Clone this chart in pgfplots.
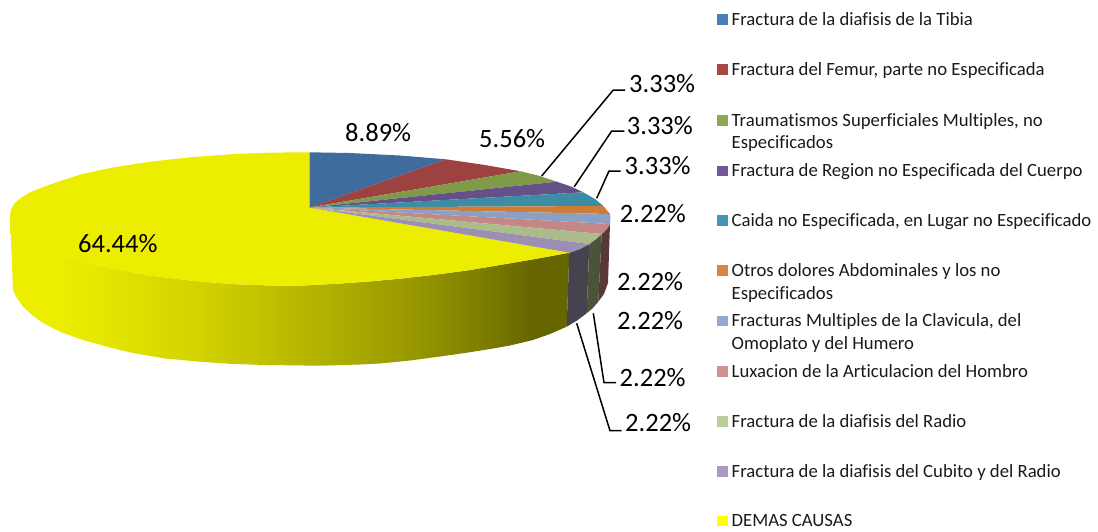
\documentclass[border=0pt]{standalone}
\usepackage{fontspec}
\setmainfont{Carlito}
\usepackage{pgfplots}
\pgfplotsset{compat=1.18}
\definecolor{cBlue}{HTML}{3F6C9C}
\definecolor{cRed}{HTML}{9C4240}
\definecolor{cGreen}{HTML}{7F9A48}
\definecolor{cPurple}{HTML}{66508A}
\definecolor{cTeal}{HTML}{3C8CA4}
\definecolor{cOrange}{HTML}{CE7C36}
\definecolor{cPeri}{HTML}{8BA0C5}
\definecolor{cPink}{HTML}{C38786}
\definecolor{cLGreen}{HTML}{ABBC8A}
\definecolor{cLilac}{HTML}{9B8FB3}
\definecolor{cYellow}{HTML}{EDED00}
\definecolor{sLilac}{HTML}{46424E}
\definecolor{sLGreen}{HTML}{4B5438}
\definecolor{sPink}{HTML}{5A3838}
\definecolor{y1}{HTML}{EDED00}
\definecolor{y2}{HTML}{E6E600}
\definecolor{y3}{HTML}{D2D200}
\definecolor{y4}{HTML}{B2B200}
\definecolor{y5}{HTML}{9C9C00}
\definecolor{y6}{HTML}{8A8A00}
\definecolor{y7}{HTML}{757500}
\definecolor{y8}{HTML}{666600}
\definecolor{lgBlue}{HTML}{4A7EBA}
\definecolor{lgRed}{HTML}{AA4644}
\definecolor{lgGreen}{HTML}{8DA952}
\definecolor{lgPurple}{HTML}{72589A}
\definecolor{lgTeal}{HTML}{4298B2}
\definecolor{lgOrange}{HTML}{DA843E}
\definecolor{lgPeri}{HTML}{93A9CF}
\definecolor{lgPink}{HTML}{D09392}
\definecolor{lgLGreen}{HTML}{B9CD96}
\definecolor{lgLilac}{HTML}{A99BBD}
\definecolor{lgYellow}{HTML}{FFFF00}
\definecolor{txt}{HTML}{1A1A1A}
\pgfdeclarehorizontalshading{yelside}{100bp}{color(0bp)=(y1); color(29.5bp)=(y1); color(33bp)=(y2); color(42bp)=(y3); color(52.7bp)=(y4); color(59.9bp)=(y5); color(64.3bp)=(y6); color(68.8bp)=(y7); color(71.5bp)=(y8); color(100bp)=(y8)}
\newcommand{\lab}[3]{\node[anchor=base west,inner sep=0pt,font=\fontsize{26.5}{30}\selectfont,text=black] at (axis cs:#1,#2) {#3};}
\newcommand{\leg}[3]{\node[anchor=base west,inner sep=0pt,font=\fontsize{18.7}{22}\addfontfeatures{Ligatures=NoCommon}\selectfont,text=txt] at (axis cs:#1,#2) {#3};}
\begin{document}
\begin{tikzpicture}
\begin{axis}[
  scale only axis, width=1098pt, height=531pt,
  xmin=0, xmax=1098, ymin=0, ymax=531, y dir=reverse,
  hide axis, clip=false]
% full extent of the picture
\addplot[draw=none] coordinates {(0,0)(1098,0)(1098,531)(0,531)};
% side of the pie
\addplot[shading=yelside, draw=none] coordinates {(10,215)(10.5,220)(12,224)(16,229)(20,233.3)(33,244)(50,250.7)(67,257)(80,260.9)(110,268.3)(150,275.5)(190,280.5)(230,284)(270,285.5)(300,285.7)(333,284)(366.7,281.7)(400,278.7)(433,275)(467,270.5)(500,265)(535,259)(569.3,252.7)(566.7,326.7)(550,334)(533,340)(510,345.5)(490,349)(465,353)(440,356.5)(410,360.5)(380,363.5)(360,364.5)(320,365.7)(267,365)(233,364)(200,361.7)(165,358.5)(133,353)(108,347)(83,340)(62,332.5)(43,323)(32,315)(23,306.7)(17,298)(13,290)};
\addplot[fill=sLilac, draw=none] coordinates {(569.3,252.7)(580,249)(589.3,244)(586.7,313.3)(577,320.5)(566.7,326.7)};
\addplot[fill=sLGreen, draw=none] coordinates {(589.3,244)(596,239)(601.7,234)(598.3,301.7)(593,308)(586.7,313.3)};
\addplot[fill=sPink, draw=none] coordinates {(601.7,234)(607,229)(610,224)(608,283)(604,294)(598.3,301.7)};
% top of the pie
\addplot[fill=cYellow, draw=none] coordinates {(309.5,207.5)(309.5,152.3)(270,152.6)(230,154.3)(190,157.3)(150,161.7)(110,168)(80,174.6)(50,184.5)(30,192.3)(20,198.5)(14,204)(11,209.5)(10,215)(10.5,220)(12,224)(16,229)(20,233.3)(33,244)(50,250.7)(67,257)(80,260.9)(110,268.3)(150,275.5)(190,280.5)(230,284)(270,285.5)(300,285.7)(333,284)(366.7,281.7)(400,278.7)(433,275)(467,270.5)(500,265)(535,259)(569.3,252.7)};
\addplot[fill=cBlue, draw=none] coordinates {(309.5,207.5)(309.5,152.3)(350,153)(400,155.5)(446,159.3)};
\addplot[fill=cRed, draw=none] coordinates {(309.5,207.5)(446,159.3)(485,165)(520.7,171.3)};
\addplot[fill=cGreen, draw=none] coordinates {(309.5,207.5)(520.7,171.3)(540,176)(556.7,181.7)};
\addplot[fill=cPurple, draw=none] coordinates {(309.5,207.5)(556.7,181.7)(571,186.5)(583.3,192.3)};
\addplot[fill=cTeal, draw=none] coordinates {(309.5,207.5)(583.3,192.3)(595,199)(603.3,206)};
\addplot[fill=cOrange, draw=none] coordinates {(309.5,207.5)(603.3,206)(610,214)};
\addplot[fill=cPeri, draw=none] coordinates {(309.5,207.5)(610,214)(610.5,219)(610,224)};
\addplot[fill=cPink, draw=none] coordinates {(309.5,207.5)(610,224)(607,229)(601.7,234)};
\addplot[fill=cLGreen, draw=none] coordinates {(309.5,207.5)(601.7,234)(596,239)(589.3,244)};
\addplot[fill=cLilac, draw=none] coordinates {(309.5,207.5)(589.3,244)(580,249)(569.3,252.7)};
% leader lines
\addplot[black, line width=1.5pt] coordinates {(541.7,176)(613.3,90)(625,90)};
\addplot[black, line width=1.5pt] coordinates {(574.3,186.7)(611.7,131)(624.3,131)};
\addplot[black, line width=1.5pt] coordinates {(596.7,198.3)(609,171)(620.7,171)};
\addplot[black, line width=1.5pt] coordinates {(593.3,313.3)(604,382.7)(616,382.7)};
\addplot[black, line width=1.5pt] coordinates {(576.7,323.3)(610,430.7)(621.7,430.7)};
% legend swatches
\addplot[fill=lgBlue, draw=none] coordinates {(717,14.3)(728,14.3)(728,25)(717,25)};
\addplot[fill=lgRed, draw=none] coordinates {(717,64.3)(728,64.3)(728,75)(717,75)};
\addplot[fill=lgGreen, draw=none] coordinates {(717,115)(728,115)(728,126)(717,126)};
\addplot[fill=lgPurple, draw=none] coordinates {(717,165.5)(728,165.5)(728,176)(717,176)};
\addplot[fill=lgTeal, draw=none] coordinates {(717,215)(728,215)(728,225.7)(717,225.7)};
\addplot[fill=lgOrange, draw=none] coordinates {(717,265)(728,265)(728,276)(717,276)};
\addplot[fill=lgPeri, draw=none] coordinates {(717,315.5)(728,315.5)(728,326)(717,326)};
\addplot[fill=lgPink, draw=none] coordinates {(717,366)(728,366)(728,377)(717,377)};
\addplot[fill=lgLGreen, draw=none] coordinates {(717,416)(728,416)(728,427)(717,427)};
\addplot[fill=lgLilac, draw=none] coordinates {(717,466)(728,466)(728,477)(717,477)};
\addplot[fill=lgYellow, draw=none] coordinates {(717,515.5)(728,515.5)(728,526)(717,526)};
% data labels
\lab{345}{141}{8.89\%}
\lab{479}{147.5}{5.56\%}
\lab{629}{92.5}{3.33\%}
\lab{626.7}{134}{3.33\%}
\lab{624.5}{174}{3.33\%}
\lab{619.7}{222}{2.22\%}
\lab{617}{290}{2.22\%}
\lab{617}{329}{2.22\%}
\lab{619.5}{386}{2.22\%}
\lab{625}{431.5}{2.22\%}
\lab{78}{252.5}{64.44\%}
% legend text
\leg{731.5}{25}{Fractura de la diafisis de la Tibia}
\leg{731.5}{75}{Fractura del Femur, parte no Especificada}
\leg{731.5}{126}{Traumatismos Superficiales Multiples, no}
\leg{731.5}{148}{Especificados}
\leg{731.5}{176}{Fractura de Region no Especificada del Cuerpo}
\leg{731.5}{226}{Caida no Especificada, en Lugar no Especificado}
\leg{731.5}{276}{Otros dolores Abdominales y los no}
\leg{731.5}{299}{Especificados}
\leg{731.5}{326}{Fracturas Multiples de la Clavicula, del}
\leg{731.5}{349}{Omoplato y del Humero}
\leg{731.5}{377}{Luxacion de la Articulacion del Hombro}
\leg{731.5}{427}{Fractura de la diafisis del Radio}
\leg{731.5}{477}{Fractura de la diafisis del Cubito y del Radio}
\leg{731.5}{526}{DEMAS CAUSAS}
\end{axis}
\end{tikzpicture}
\end{document}
